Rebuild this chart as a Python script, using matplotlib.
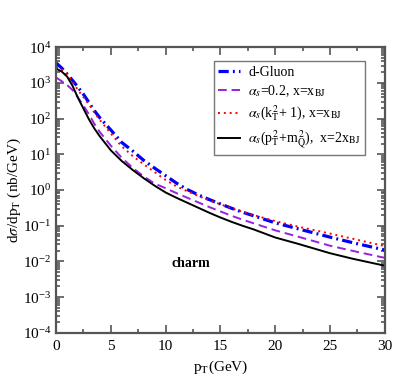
import numpy as np
import matplotlib
matplotlib.use('Agg')
import matplotlib.pyplot as plt
from matplotlib.ticker import MultipleLocator, LogLocator, NullFormatter

plt.rcParams['font.family'] = 'Liberation Serif'
plt.rcParams['mathtext.fontset'] = 'stix'

# p_T grid (GeV) and log10 of d(sigma)/dp_T (nb/GeV)
pt = [0, 0.5, 1, 1.5, 2, 2.5, 3, 3.5, 4, 5, 6, 7, 8, 9, 10, 11, 12, 13, 14,
      15, 16, 17, 18, 20, 22, 25, 27, 30]
gluon_log = [3.56, 3.42, 3.25, 3.07, 2.88, 2.68, 2.45, 2.22, 2.02, 1.68, 1.33,
             1.09, 0.83, 0.61, 0.40, 0.19, 0.01, -0.14, -0.27, -0.39, -0.51,
             -0.62, -0.72, -0.92, -1.08, -1.32, -1.47, -1.68]
fixed_log = [3.15, 3.05, 2.94, 2.80, 2.59, 2.36, 2.12, 1.85, 1.62, 1.24, 0.90,
             0.62, 0.38, 0.18, 0.05, -0.09, -0.22, -0.35, -0.48, -0.60, -0.72,
             -0.83, -0.93, -1.13, -1.30, -1.56, -1.70, -1.90]
kt_log = [3.44, 3.38, 3.24, 3.03, 2.80, 2.60, 2.40, 2.17, 1.96, 1.58, 1.22,
          0.95, 0.72, 0.50, 0.28, 0.10, -0.04, -0.17, -0.29, -0.40, -0.51,
          -0.61, -0.70, -0.87, -1.02, -1.22, -1.36, -1.57]
pt_log = [3.40, 3.32, 3.18, 2.92, 2.58, 2.28, 1.98, 1.72, 1.50, 1.11, 0.81,
          0.56, 0.33, 0.12, -0.07, -0.22, -0.36, -0.50, -0.64, -0.77, -0.89,
          -1.00, -1.10, -1.33, -1.50, -1.77, -1.92, -2.12]

labels = ['d-Gluon',
          r'$\alpha_s$=0.2, x=x$_{\rm BJ}$',
          r'$\alpha_s$(k$_{\rm T}^{\,2}$+ 1), x=x$_{\rm BJ}$',
          r'$\alpha_s$(p$_{\rm T}^{\,2}$+m$_{\rm Q}^{\,2}$),  x=2x$_{\rm BJ}$']

fig = plt.figure(figsize=(4.09, 3.80), dpi=100)
ax = fig.add_axes([0.137, 0.124, 0.804, 0.752])

pt = np.array(pt)
l1, = ax.plot(pt, 10**np.array(gluon_log), color='#0000ff', lw=2.3)
l1.set_dashes([3.2, 1.3, 0.6, 1.3])
l2, = ax.plot(pt, 10**np.array(fixed_log), color='#9a1fe0', lw=1.4)
l2.set_dashes([4.5, 2.5])
l3, = ax.plot(pt, 10**np.array(kt_log), color='#ff0000', lw=1.4)
l3.set_dashes([1, 2])
l4, = ax.plot(pt, 10**np.array(pt_log), color='black', lw=1.4)

ax.set_yscale('log')
ax.set_xlim(0, 30)
ax.set_ylim(1e-4, 1e4)

ax.xaxis.set_major_locator(MultipleLocator(5))
ax.xaxis.set_minor_locator(MultipleLocator(2.5))
ax.yaxis.set_major_locator(LogLocator(base=10, numticks=20))
ax.yaxis.set_minor_locator(LogLocator(base=10, subs=np.arange(2, 10), numticks=20))
ax.yaxis.set_minor_formatter(NullFormatter())

gray = '#555555'
for s in ax.spines.values():
    s.set_color(gray)
    s.set_linewidth(1.6)
ax.tick_params(which='both', direction='in', top=True, right=True, color=gray,
               labelsize=11, width=1.2)
ax.tick_params(which='major', length=6)
ax.tick_params(which='minor', length=3)
ax.tick_params(axis='x', pad=5)

ax.set_xlabel(r'p$_{\rm T}$(GeV)', fontsize=11, labelpad=4)
ax.set_ylabel(r'd$\sigma$/dp$_{\rm T}$ (nb/GeV)', fontsize=11)
ax.yaxis.set_label_coords(-0.10, 0.5)

ax.text(12.3, 0.009, 'charm', fontsize=10, fontweight='bold',
        ha='center', va='center')

leg = ax.legend([l1, l2, l3, l4], labels, loc='upper right',
                bbox_to_anchor=(0.94, 0.95), fontsize=10, handlelength=1.6,
                frameon=True, fancybox=False, borderpad=0.3, labelspacing=0.35,
                handletextpad=0.6, borderaxespad=0)
leg.get_frame().set_edgecolor(gray)
leg.get_frame().set_linewidth(1.0)

fig.savefig('out.png', dpi=100)
